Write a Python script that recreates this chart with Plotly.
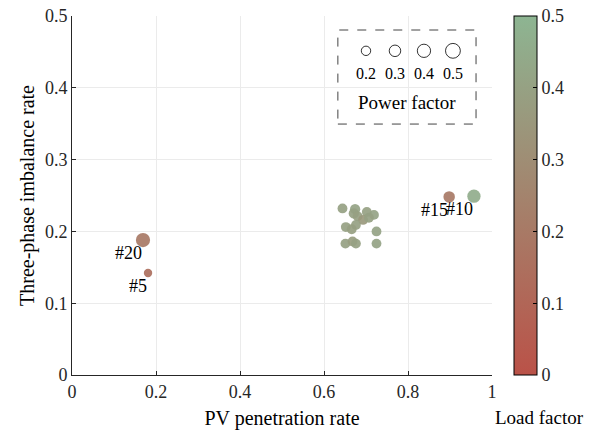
import plotly.graph_objects as go
import numpy as np

# ---- data ----
pv_rate = [0.169, 0.181, 0.898, 0.957,
           0.644, 0.674, 0.702, 0.719, 0.671, 0.680, 0.693, 0.707,
           0.652, 0.676, 0.666, 0.725, 0.651, 0.668, 0.676, 0.725]
imbalance = [0.188, 0.142, 0.248, 0.249,
             0.232, 0.231, 0.227, 0.223, 0.225, 0.221, 0.216, 0.219,
             0.206, 0.209, 0.203, 0.200, 0.183, 0.186, 0.183, 0.183]
load_factor = [0.20, 0.15, 0.20, 0.46,
               0.40, 0.41, 0.40, 0.41, 0.40, 0.39, 0.36, 0.40,
               0.40, 0.40, 0.39, 0.41, 0.40, 0.38, 0.40, 0.41]
power_factor = [0.46, 0.16, 0.30, 0.40,
                0.22, 0.24, 0.22, 0.22, 0.24, 0.22, 0.22, 0.22,
                0.22, 0.22, 0.22, 0.22, 0.22, 0.22, 0.22, 0.22]
point_labels = ["#20", "#5", "#15", "#10"] + [""] * 16

legend_pf = [0.2, 0.3, 0.4, 0.5]
y_ticks = [0, 0.1, 0.2, 0.3, 0.4, 0.5]
cbar_ticks = [0, 0.1, 0.2, 0.3, 0.4, 0.5]

FONT = "'Liberation Serif', 'Times New Roman', Times, serif"
K = 21.0  # diameter scale (area proportional to power factor)


def diam(v):
    return [K * np.sqrt(x) for x in v]


colorscale = [[0, "rgb(186,82,72)"], [1, "rgb(141,181,146)"]]

fig = go.Figure()

fig.add_trace(go.Scatter(
    x=pv_rate, y=imbalance, mode="markers",
    marker=dict(size=diam(power_factor), color=load_factor,
                colorscale=colorscale, cmin=0, cmax=0.5, opacity=0.92,
                line=dict(width=0),
                colorbar=dict(
                    x=1.052, xanchor="left", xref="paper",
                    y=0, yanchor="bottom", len=1, lenmode="fraction",
                    xpad=0, ypad=0,
                    thickness=23, thicknessmode="pixels",
                    outlinecolor="black", outlinewidth=1,
                    tickmode="array", tickvals=cbar_ticks,
                    ticktext=[f"{t:g}" for t in cbar_ticks],
                    ticks="inside", ticklen=4, tickcolor="black",
                    ticklabeloverflow="allow",
                    tickfont=dict(family=FONT, size=18, color="#262626"),
                )),
    showlegend=False, hoverinfo="skip"))

# point labels
for x, y, t in zip(pv_rate, imbalance, point_labels):
    if t:
        fig.add_annotation(x=x, y=y, text=t, showarrow=False,
                           xanchor="right", yanchor="top", yshift=-1, xshift=1,
                           font=dict(family=FONT, size=18, color="black"))

# legend for power factor (paper coordinates, pixel-sized circles)
leg_x = [0.700, 0.769, 0.838, 0.907]
leg_y = 0.903
for x, v, d in zip(leg_x, legend_pf, diam(legend_pf)):
    fig.add_shape(type="circle", xref="paper", yref="paper",
                  xsizemode="pixel", ysizemode="pixel",
                  xanchor=x, yanchor=leg_y,
                  x0=-d / 2, x1=d / 2, y0=-d / 2, y1=d / 2,
                  line=dict(color="black", width=0.8), fillcolor="white")
    fig.add_annotation(x=x, y=0.841, xref="paper", yref="paper", text=f"{v:g}",
                       showarrow=False, xanchor="center", yanchor="middle",
                       font=dict(family=FONT, size=16, color="black"))
fig.add_annotation(x=0.798, y=0.760, xref="paper", yref="paper",
                   text="Power factor", showarrow=False,
                   xanchor="center", yanchor="middle",
                   font=dict(family=FONT, size=19, color="black"))
fig.add_shape(type="rect", xref="paper", yref="paper", x0=0.633, x1=0.962,
              y0=0.699, y1=0.961, line=dict(color="#444", width=1, dash="dash"))

fig.add_annotation(x=1.114, y=-0.117, xref="paper", yref="paper",
                   text="Load factor", showarrow=False, xanchor="center",
                   yanchor="middle",
                   font=dict(family=FONT, size=19, color="black"))

axis_common = dict(showline=True, linecolor="#262626", linewidth=1,
                   mirror=False, ticks="inside", ticklen=4,
                   tickcolor="#262626", showgrid=True, gridcolor="#ebebeb",
                   gridwidth=1, zeroline=False, automargin=False,
                   ticklabeloverflow="allow",
                   tickfont=dict(family=FONT, size=18, color="#262626"))

fig.update_layout(
    width=598, height=430,
    margin=dict(l=72, r=106, t=16, b=55, autoexpand=False),
    paper_bgcolor="white", plot_bgcolor="white",
    font=dict(family=FONT),
    xaxis=dict(range=[0, 1], tickmode="linear", tick0=0, dtick=0.2,
               tickformat="~g",
               title=dict(text="PV penetration rate",
                          font=dict(family=FONT, size=20, color="black")),
               **axis_common),
    yaxis=dict(range=[0, 0.5], tickvals=y_ticks,
               ticktext=[f"{t:g}" for t in y_ticks],
               title=dict(text="Three-phase imbalance rate", standoff=4,
                          font=dict(family=FONT, size=20, color="black")),
               **axis_common),
)

fig.write_html("out.html", config={"displayModeBar": False},
               post_script="document.body.style.margin='0';"
                           "document.body.style.overflow='hidden';")
